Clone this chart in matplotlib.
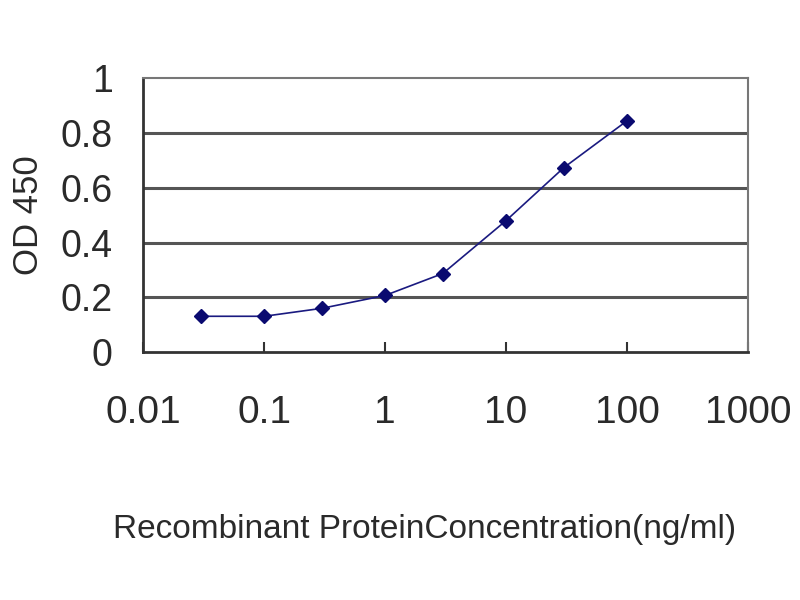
import matplotlib
matplotlib.use("Agg")
import matplotlib.pyplot as plt
from matplotlib.ticker import FixedLocator, FixedFormatter, NullLocator

# ELISA standard curve
conc = [0.03, 0.1, 0.3, 1, 3, 10, 30, 100]
od450 = [0.131, 0.131, 0.160, 0.207, 0.287, 0.480, 0.673, 0.844]

x_ticks = [0.01, 0.1, 1, 10, 100, 1000]
x_labels = ["0.01", "0.1", "1", "10", "100", "1000"]
y_ticks = [0, 0.2, 0.4, 0.6, 0.8, 1]
y_labels = ["0", "0.2", "0.4", "0.6", "0.8", "1"]

plt.rcParams["font.family"] = ["Liberation Sans", "DejaVu Sans"]

fig = plt.figure(figsize=(8, 6), dpi=100)
ax = fig.add_axes([0.179, 0.413, 0.756, 0.457])

# gridlines
for y in y_ticks[1:-1]:
    ax.axhline(y, color="#555555", lw=2.2, zorder=1)

ax.plot(conc, od450, color="#1a1a80", lw=1.2, marker="D", ms=7,
        mfc="#0a0a70", mec="#0a0a70", zorder=3)

ax.set_xscale("log")
ax.set_xlim(0.01, 1000)
ax.set_ylim(0, 1)
ax.xaxis.set_major_locator(FixedLocator(x_ticks))
ax.xaxis.set_major_formatter(FixedFormatter(x_labels))
ax.xaxis.set_minor_locator(NullLocator())
ax.yaxis.set_major_locator(FixedLocator(y_ticks))
ax.yaxis.set_major_formatter(FixedFormatter(y_labels))

ax.tick_params(axis="x", direction="in", length=7, width=1.5, color="#333333",
               labelsize=28, labelcolor="#2a2a2a", pad=31)
ax.tick_params(axis="y", length=0, labelsize=27, labelcolor="#2a2a2a", pad=22)

for side in ["left", "bottom"]:
    ax.spines[side].set_color("#333333")
    ax.spines[side].set_linewidth(2)
for side in ["top", "right"]:
    ax.spines[side].set_color("#777777")
    ax.spines[side].set_linewidth(1.5)

ax.set_ylabel("OD 450", fontsize=25, color="#2a2a2a")
ax.yaxis.set_label_coords(-0.162, 0.5)
ax.set_xlabel("Recombinant ProteinConcentration(ng/ml)", fontsize=24,
              color="#2a2a2a")
ax.xaxis.set_label_coords(0.466, -0.59)

fig.savefig("out.png", dpi=100)
